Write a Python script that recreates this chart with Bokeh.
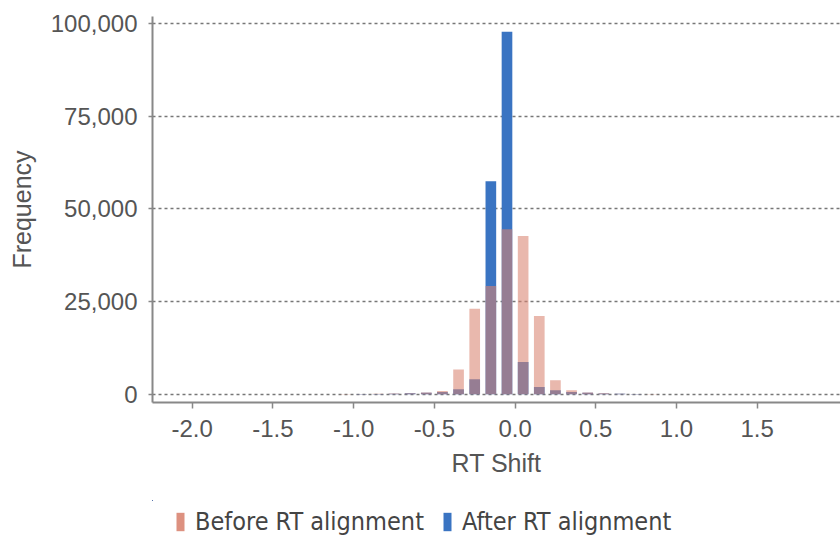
from bokeh.plotting import figure
from bokeh.models import (Range1d, FixedTicker, NumeralTickFormatter, Legend, LegendItem,
                          ColumnDataSource)
from bokeh.layouts import column
from bokeh.embed import file_html
from bokeh.resources import INLINE

# ---- data ----
bin_centers = [-1.15, -1.05, -0.95, -0.85, -0.75, -0.65, -0.55, -0.45, -0.35, -0.25, -0.15,
               -0.05, 0.05, 0.15, 0.25, 0.35, 0.45, 0.55, 0.65, 0.75, 0.85, 0.95]
before_counts = [40, 60, 90, 130, 200, 300, 500, 900, 6700, 23100, 29200,
                 44500, 42700, 21100, 3800, 1100, 500, 300, 180, 110, 70, 40]
after_counts = [30, 50, 80, 120, 180, 280, 450, 650, 1350, 4050, 57500,
                97800, 8700, 2000, 1100, 650, 400, 250, 150, 90, 50, 30]
x_ticks = [-2.0, -1.5, -1.0, -0.5, 0.0, 0.5, 1.0, 1.5]
y_ticks = [0, 25000, 50000, 75000, 100000]
series_names = ["Before RT alignment", "After RT alignment"]

src = ColumnDataSource(dict(x=bin_centers, before=before_counts, after=after_counts))

FONT = "Liberation Sans"
TXT = "#555555"
blue = "#3a74c2"
salmon = "#d98572"
before_alpha = 0.58

p = figure(frame_width=688, frame_height=386, output_backend="svg", toolbar_location=None,
           x_range=Range1d(-2.246, 2.016), y_range=Range1d(-2200, 101900),
           min_border_left=152, min_border_right=0, min_border_top=16, min_border_bottom=98)
p.outline_line_color = None
p.background_fill_color = "white"

r_after = p.vbar(x="x", top="after", width=0.066, source=src, fill_color=blue, line_color=None)
r_before = p.vbar(x="x", top="before", width=0.066, source=src, fill_color=salmon,
                  fill_alpha=before_alpha, line_color=None)

# grid
p.xgrid.grid_line_color = None
p.ygrid.grid_line_color = "#777777"
p.ygrid.grid_line_dash = "3 3"
p.ygrid.grid_line_width = 1.5
p.ygrid.ticker = FixedTicker(ticks=y_ticks)

# axes
p.xaxis.ticker = FixedTicker(ticks=x_ticks)
p.xaxis.formatter = NumeralTickFormatter(format="0.0")
p.yaxis.ticker = FixedTicker(ticks=y_ticks)
p.yaxis.formatter = NumeralTickFormatter(format="0,0")
for ax in (p.xaxis[0], p.yaxis[0]):
    ax.axis_line_color = "#888888"
    ax.axis_line_width = 2
    ax.major_tick_line_color = "#888888"
    ax.major_tick_line_width = 1.5
    ax.minor_tick_line_color = None
    ax.major_label_text_font = FONT
    ax.major_label_text_font_size = "24px"
    ax.major_label_text_color = TXT
    ax.axis_label_text_font = FONT
    ax.axis_label_text_font_size = "25px"
    ax.axis_label_text_font_style = "normal"
    ax.axis_label_text_color = TXT
p.xaxis.major_tick_out = 6
p.xaxis.major_tick_in = 0
p.yaxis.major_tick_out = 4
p.yaxis.major_tick_in = 0
p.xaxis.axis_label = "RT Shift"
p.yaxis.axis_label = "Frequency"
p.xaxis.major_label_standoff = 11
p.yaxis.major_label_standoff = 11
p.xaxis.axis_label_standoff = 9
p.yaxis.axis_label_standoff = 12

# ---- legend strip below the chart (proxy renderers kept out of view) ----
lf = figure(width=840, height=38, output_backend="svg", toolbar_location=None,
            x_range=Range1d(100, 101), y_range=Range1d(-10, -9),
            x_axis_type=None, y_axis_type=None,
            min_border=0, min_border_left=0, min_border_right=0,
            min_border_top=0, min_border_bottom=0)
lf.outline_line_color = None
lf.xgrid.grid_line_color = None
lf.ygrid.grid_line_color = None
l_before = lf.vbar(x=bin_centers, top=before_counts, width=0.066, fill_color=salmon,
                   fill_alpha=0.9, line_color=None)
l_after = lf.vbar(x=bin_centers, top=after_counts, width=0.066, fill_color=blue,
                  line_color=None)

legend = Legend(items=[LegendItem(label=series_names[0], renderers=[l_before]),
                       LegendItem(label=series_names[1], renderers=[l_after])],
                orientation="horizontal", location=(23, 2))
legend.label_text_font = "'DejaVu Sans Condensed', 'DejaVu Sans'"
legend.label_text_font_size = "25px"
legend.label_text_color = "#444444"
legend.glyph_width = 10
legend.glyph_height = 23
legend.label_standoff = 10
legend.spacing = 18
legend.border_line_color = None
legend.background_fill_alpha = 0
legend.margin = 0
legend.padding = 0
lf.add_layout(legend, "center")

layout = column(p, lf, spacing=0)
open("out.html", "w").write(file_html(layout, INLINE))
